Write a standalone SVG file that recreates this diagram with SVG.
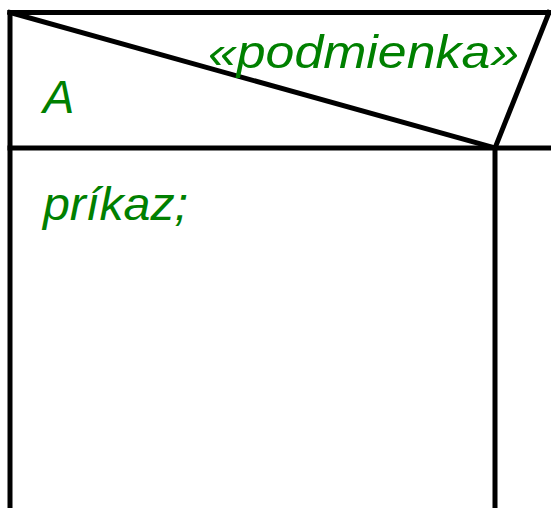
<svg xmlns="http://www.w3.org/2000/svg" width="551" height="508" viewBox="0 0 551 508">
<style>
.ln{stroke:#000;stroke-width:5;fill:none;stroke-linecap:square}
.t{font-family:"Liberation Sans",Arial,sans-serif;font-style:italic;font-size:47px;fill:#008000}
</style>
<rect width="551" height="508" fill="#fff"/>
<g id="connectors">
<line class="ln" x1="10" y1="12.5" x2="551" y2="12.5"/>
<line class="ln" x1="10" y1="12.5" x2="10" y2="508"/>
<line class="ln" x1="10" y1="148" x2="551" y2="148"/>
<line class="ln" x1="495" y1="148" x2="495" y2="508"/>
<line class="ln" x1="10" y1="12.5" x2="495" y2="148"/>
<line class="ln" x1="549" y1="12.5" x2="495" y2="148"/>
</g>
<g id="condition">
<text class="t" x="208" y="68" textLength="311" lengthAdjust="spacingAndGlyphs">«podmienka»</text>
</g>
<g id="branchA">
<text class="t" x="43" y="113">A</text>
</g>
<g id="command">
<text class="t" x="43" y="220" textLength="145" lengthAdjust="spacingAndGlyphs">príkaz;</text>
</g>
</svg>
